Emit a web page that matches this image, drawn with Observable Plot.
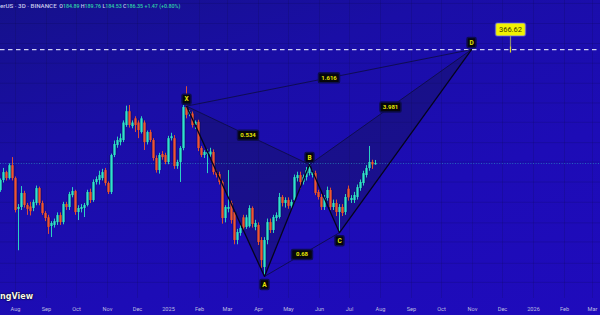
<!DOCTYPE html>
<html><head><meta charset="utf-8">
<script src="https://cdn.jsdelivr.net/npm/d3@7"></script>
<script src="https://cdn.jsdelivr.net/npm/@observablehq/plot@0.6"></script>
<style>
html,body{margin:0;padding:0;background:#1b0ca8;}
#wrap{position:relative;width:600px;height:315px;overflow:hidden;
  background:linear-gradient(160deg,#15118a 0%,#1a0ea6 30%,#1d0cb6 65%,#1f0bbc 100%);}
#hdr{position:absolute;left:0;top:3px;font:500 5.3px Roboto,sans-serif;color:#c9c9ea;white-space:nowrap;line-height:6px;}
#hdr .s{font-size:6.2px;}
#hdr .v{color:#2fd1a6;}
#logo{position:absolute;left:0;top:292px;font:bold 8px "DejaVu Sans",sans-serif;color:#f4f4f4;text-shadow:0 0 2px #000,0 0 1px #000;}
svg{position:absolute;left:0;top:0;}
</style></head><body><div id="wrap"></div>
<script>
// ---- data ----
const symbolText = "erUS · 3D · BINANCE";
const logoText = "ngView";
const firstCandle = "2024-07-17";   // 3-day candles
const opens  = [158.8,168.5,176.6,170.4,184,170.4,141.9,143.5,156,145.2,144,142.7,147,160.6,147,138.5,135,128.2,129,131.2,136.8,131.2,146.1,143.5,154,157.8,139.3,141.9,142.7,145.2,156.9,149.6,166.5,168.5,170.4,178.7,165.5,156.9,195.4,207.4,211,213.6,233.5,253.5,232,243,237,224,237,211,224,213.6,192,178.7,196.6,195.4,187.5,216,216,183,187.5,203.7,260,250,250,233.5,238,203.7,195.4,196.6,196,199,176.6,174.5,166.5,134.4,141.9,147,139.3,118,123,135,127.5,128,142.7,127.5,129,118,100.5,118,131.2,125.2,134.4,135.2,152.3,147,149.6,144.5,149.6,170.4,173.5,166.5,171.4,175.5,173.5,175.5,156.9,152.3,143.5,151.4,158.8,143.5,147,139.3,143.5,139.3,160,149.6,149.6,152.3,160.6,165.5,173.5,180.9,187.5,184.89];
const highs  = [170,181,178,186,193,172,146,162.5,158,147,148,150,163,162,149,140,137,132,134,139,139,148,148,157,161.5,159,145,146,147,159,160,169,172,178,180,181,167,197,213,218,222,240,262,263,240,246,240,246,240,226,227,216,195,198,200,198,219,223,220,190,206,265,294,255,253,240,241,206,201,202,204,202,179,177,168,145,178.7,149,141,126,129,137,137,145,144,133,131,120,120,134,134,137,139,156,154,152,152,150,174,177,177,174,182,186.5,179,178,159,155,154,162,161,150,150,146,146,155,163,154,157,164,169,178,184,206.2,190,189.76];
const lows   = [157,166,168,169,168,139,111,141,143,137,136.5,140,145,145,137,132,122.3,120.1,127,129,129,129.5,141,141,152,137,132.8,139,135.2,144,147,148,164,164,168,163,155,155,193,204,207,211,231,230,229,224,216,222,201.3,208,211,189,176,175,190,185,185,213,180,180,166.5,201,243,246,230,228,200,193,192,175.5,193,174,171,164,130,131,139,130,115,115,121,125,126,127,127,125,114.5,100,94.7,115,123,123,132,134,144,143,142,142,147,167,160,164,168,173,171,154,150,141,141,149,141,141,136,124,136,137,149,147,147,150,158,163,171,178,180,184.53];
const closes = [168.5,176.6,170.4,184,170.4,141,143.5,156,145.2,141.9,140,147.9,160.6,147,138.5,134.4,127.5,130.5,132,136.8,131.2,146.1,143.5,155,157.8,139.3,142.7,143.5,145.2,156.9,149.6,166.5,169.5,173.5,176.6,165.5,156.9,195.4,208.6,213.6,216,237,253.5,233.5,237,233.5,226.7,243,211,224,213.6,192,178.7,195.4,193,187.5,216,218.5,183,187.5,203.7,260,248,252,233.5,238,203.7,195.4,199,199,199.5,176.6,173.5,166.5,134.4,143.5,143.5,132.8,118,123.7,126.7,127,135,142.7,129.7,130.5,116.6,104.7,118,131.2,125.2,135.2,136.8,152.3,147,149.6,144.5,147.9,171.4,173.5,166.5,171.4,178.7,184,176.6,156,152.3,143.5,151.4,158.8,143.5,147,139.3,143.5,138.5,152.3,152,151.4,154.1,161.5,166.5,175.5,180.9,187.5,184.88,186.35];

const patternLabels = ["X","A","B","C","D"];
const patternDates  = ["2025-01-19","2025-04-07","2025-05-22","2025-06-21","2025-10-31"];
const patternPrices = [262,95.3,185.2,123.6,366.62];
const ratioFrom   = ["X","X","B","A"];
const ratioTo     = ["B","D","D","C"];
const ratioLabels = ["0.534","1.616","3.981","0.68"];
const targetDate = "2025-12-09";
const targetPrice = 366.62;
const monthTickLabels = ["Aug","Sep","Oct","Nov","Dec","2025","Feb","Mar","Apr","May","Jun","Jul","Aug","Sep","Oct","Nov","Dec","2026","Feb","Mar"];
const gridPrices = [92,103,117,131,148,167,188,211,238,267,300,338,380,428,482];

// ---- derived ----
const start = new Date(firstCandle);
const candles = opens.map((o,i)=>({date:d3.utcDay.offset(start,3*i),open:o,high:highs[i],low:lows[i],close:closes[i]}));
const UP="#2fe6c6", DOWN="#f2562a";
const col = d => d.close >= d.open ? UP : DOWN;
const pts = patternLabels.map((l,i)=>({label:l,date:new Date(patternDates[i]),price:patternPrices[i]}));
const P = Object.fromEntries(pts.map(p=>[p.label,p]));
const ratios = ratioLabels.map((t,i)=>{const a=P[ratioFrom[i]], b=P[ratioTo[i]];
  return {text:t,a,b,date:new Date((+a.date + +b.date)/2),price:Math.sqrt(a.price*b.price)};});
const monthTicks = d3.utcMonth.range(new Date("2024-08-01"), new Date("2026-03-02"));
const last = candles[candles.length-1], prev = candles[candles.length-2];
const chg = last.close - prev.close, pct = chg/prev.close*100;

function boxSym(w,h,r){return {draw(ctx){const x0=-w/2,y0=-h/2,x1=w/2,y1=h/2;
  ctx.moveTo(x0+r,y0);ctx.lineTo(x1-r,y0);ctx.arcTo(x1,y0,x1,y0+r,r);ctx.lineTo(x1,y1-r);
  ctx.arcTo(x1,y1,x1-r,y1,r);ctx.lineTo(x0+r,y1);ctx.arcTo(x0,y1,x0,y1-r,r);ctx.lineTo(x0,y0+r);
  ctx.arcTo(x0,y0,x0+r,y0,r);ctx.closePath();}};}
function vSym(a,b){return {draw(ctx){ctx.moveTo(0,a);ctx.lineTo(0,b);}};}

const above = pts.filter(p=>["X","B","D"].includes(p.label));
const below = pts.filter(p=>["A","C"].includes(p.label));
const tgt = [{date:new Date(targetDate),price:targetPrice,text:targetPrice.toFixed(2)}];

const chart = Plot.plot({
  width:600,height:315,marginTop:0,marginRight:0,marginBottom:17,marginLeft:0,
  style:{background:"transparent",overflow:"hidden",fontFamily:"Roboto, sans-serif"},
  x:{type:"utc",domain:[new Date("2024-07-17"),new Date("2026-03-09")]},
  y:{type:"log",domain:[83.6,490.6],axis:null},
  color:{type:"identity"},
  marks:[
    Plot.gridX(monthTicks,{stroke:"#0a0a3c",strokeOpacity:0.16}),
    Plot.gridY(gridPrices,{stroke:"#0a0a3c",strokeOpacity:0.16}),
    Plot.axisX(monthTicks,{tickSize:0,tickPadding:9,fontSize:5.6,color:"#bdbde0",
      tickFormat:(d,i)=>monthTickLabels[i],label:null}),
    // pattern fills
    Plot.line([P.X,P.A,P.B],{x:"date",y:"price",fill:"#16164e",fillOpacity:0.38,stroke:"none"}),
    Plot.line([P.B,P.C,P.D],{x:"date",y:"price",fill:"#16164e",fillOpacity:0.38,stroke:"none"}),
    // current price line
    Plot.ruleY([last.close],{stroke:"#2ab0c8",strokeOpacity:0.6,strokeDasharray:"1,1.6",strokeWidth:0.9}),
    // target line
    Plot.ruleY([targetPrice],{stroke:"#cfcff2",strokeDasharray:"4.5,3.5",strokeWidth:1.2}),
    // candles
    Plot.ruleX(candles,{x:"date",y1:d=>Math.min(d.open,d.close),y2:d=>Math.max(d.open,d.close),stroke:"#0b0850",strokeWidth:5,strokeOpacity:0.35}),
    Plot.ruleX(candles,{x:"date",y1:"low",y2:"high",stroke:col,strokeWidth:0.9}),
    Plot.ruleX(candles,{x:"date",y1:"open",y2:"close",stroke:col,strokeWidth:2.3}),
    // pattern lines
    Plot.link(ratios,{x1:d=>d.a.date,y1:d=>d.a.price,x2:d=>d.b.date,y2:d=>d.b.price,stroke:"#0c0c3e",strokeWidth:0.8}),
    Plot.line(pts,{x:"date",y:"price",stroke:"#05051c",strokeWidth:1.3}),
    // ratio labels
    Plot.dot(ratios,{x:"date",y:"price",symbol:boxSym(21,10,1.5),fill:"#06060c",stroke:"#0c0c50",strokeWidth:1.5,r:5}),
    Plot.text(ratios,{x:"date",y:"price",text:"text",fill:"#e6e600",fontSize:6,fontWeight:"bold"}),
    // point labels
    Plot.dot(above,{x:"date",y:"price",dy:-7,symbol:boxSym(9,10,1.5),fill:"#06060c",stroke:"#0c0c50",strokeWidth:1.5,r:5}),
    Plot.text(above,{x:"date",y:"price",dy:-7,text:"label",fill:"#e6e600",fontSize:6.5,fontWeight:"bold"}),
    Plot.dot(below,{x:"date",y:"price",dy:8,symbol:boxSym(9,10,1.5),fill:"#06060c",stroke:"#0c0c50",strokeWidth:1.5,r:5}),
    Plot.text(below,{x:"date",y:"price",dy:8,text:"label",fill:"#e6e600",fontSize:6.5,fontWeight:"bold"}),
    // target note
    Plot.dot(tgt,{x:"date",y:"price",symbol:vSym(-14,1),stroke:"#8c8c78",strokeWidth:1.2,r:5}),
    Plot.dot(tgt,{x:"date",y:"price",symbol:vSym(-3,3),stroke:"#d8d830",strokeWidth:1.2,r:5}),
    Plot.dot(tgt,{x:"date",y:"price",dy:-20,symbol:boxSym(30,13,2),fill:"#f2f200",stroke:"#6666ff",strokeOpacity:0.5,strokeWidth:1.5,r:6}),
    Plot.text(tgt,{x:"date",y:"price",dy:-20,text:"text",fill:"#3a3a00",fontSize:7.5})
  ]
});
const wrap = document.getElementById("wrap");
wrap.appendChild(chart);
const f = d3.format(".2f");
const hdr = document.createElement("div"); hdr.id="hdr";
hdr.innerHTML = `<span class="s">${symbolText}</span> &nbsp;O<span class="v">${f(last.open)}</span> H<span class="v">${f(last.high)}</span> L<span class="v">${f(last.low)}</span> C<span class="v">${f(last.close)}</span> <span class="v">${chg>=0?"+":""}${f(chg)} (${chg>=0?"+":""}${f(pct)}%)</span>`;
wrap.appendChild(hdr);
const logo = document.createElement("div"); logo.id="logo"; logo.textContent = logoText;
wrap.appendChild(logo);
</script></body></html>
